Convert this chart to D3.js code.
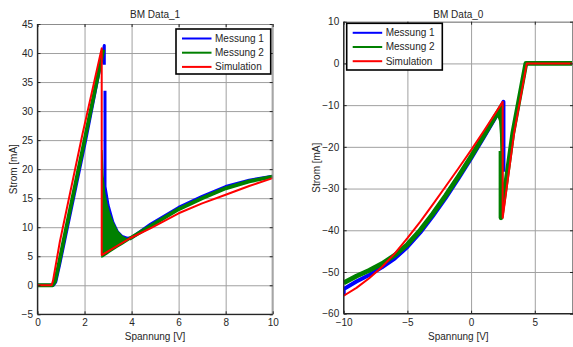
<!DOCTYPE html>
<html><head><meta charset="utf-8">
<script src="https://cdn.jsdelivr.net/npm/d3@7"></script>
<style>
html,body{margin:0;padding:0;background:#fff;}
svg{display:block;font-family:"Liberation Sans",Arial,sans-serif;}
</style>
</head><body>
<svg id="c" width="573" height="347"></svg>
<script>
// ---------------- Data: left panel "BM Data_1" ----------------
const L_title = "BM Data_1";
const L_xTicks = [0, 2, 4, 6, 8, 10];
const L_yTicks = [-5, 0, 5, 10, 15, 20, 25, 30, 35, 40, 45];
const L_simV = [0, 0.6, 0.66, 0.95, 1.9, 2.73, 2.73, 3.93, 4.8, 6, 7, 8, 9, 10];
const L_simI = [0, 0, 0.8, 7.5, 25.8, 40.8, 5.2, 8.1, 9.8, 12.4, 14.1, 15.6, 17.1, 18.45];
const L_m1V = [0, 0.68, 0.78, 0.95, 1.15, 2.05, 2.84, 2.84, 2.86, 2.87, 2.87, 3.0, 3.2, 3.4, 3.6, 3.8, 4.0, 4.8, 6, 7, 8, 9, 10];
const L_m1I = [0, 0, 0.6, 3.7, 7.6, 25, 41.3, 38, NaN, 33.5, 17, 13.8, 10.9, 9.2, 8.4, 8.1, 8.2, 10.5, 13.4, 15.3, 17.0, 18.1, 18.8];
const L_m2V = [0, 0.64, 0.74, 0.9, 1.1, 2.0, 2.8, 2.8, 3.9, 4.8, 6, 7, 8, 9, 10];
const L_m2I = [0, 0, 0.6, 3.5, 7.5, 25, 40.6, NaN, 8.0, 10.2, 13.1, 15.0, 16.7, 17.9, 18.7];
const L_oscV  = [2.74, 2.78, 2.85, 2.95, 3.05, 3.2, 3.4, 3.6, 3.8, 3.95];
const L_oscHi = [23.3, 19, 16, 14, 12.5, 10.9, 9.3, 8.4, 8.0, 8.1];
const L_oscLo = [4.9, 4.95, 5.15, 5.4, 5.7, 6.1, 6.6, 7.1, 7.6, 8.0];

// ---------------- Data: right panel "BM Data_0" ----------------
const R_title = "BM Data_0";
const R_xTicks = [-10, -5, 0, 5];
const R_yTicks = [-60, -50, -40, -30, -20, -10, 0, 10];
const R_simV = [-10, -9, -8, -7, -6, -5, -4, -3, -2, -1, 0, 1, 2, 2.48, 2.48, 3.37, 4.37, 8];
const R_simI = [-55.7, -53.8, -51.5, -48.8, -45.6, -41.9, -38, -33.8, -29.5, -25.2, -20.8, -16.2, -11.5, -9.2, -37, -16.8, 0, 0];
const R_m1V = [-10, -10, -9, -8, -7, -6, -5, -4, -3, -2, -1, 0, 1, 2, 2.54, 2.54];
const R_m1I = [-55.6, -54.1, -52.3, -50.7, -48.9, -46.8, -44.0, -40.6, -36.6, -32.3, -27.6, -22.8, -17.7, -12.5, -9.2, -26];
const R_m2V = [-10, -9, -8, -7, -6, -5, -4, -3, -2, -1, 0, 1, 1.8, 2.45, 2.35, 2.35, 2.35, 3.27, 4.3, 8];
const R_m2I = [-52.6, -51, -49.6, -48, -46, -43.4, -40, -36, -31.7, -27.1, -22.3, -17.3, -13.2, -10, NaN, -21, -37, -16.8, 0, 0];
const R_oscV  = [1.7, 1.9, 2.1, 2.25, 2.32, 2.36, 2.42, 2.45];
const R_oscHi = [-13.3, -12.3, -11.3, -10.6, -10.3, -10.1, -9.8, -9.6];
const R_oscLo = [-13.6, -13.2, -12.5, -13.8, -17, -22, -24.5, -9.6];

const seriesNames = ["Messung 1", "Messung 2", "Simulation"];
const seriesColors = ["#0000ff", "#008000", "#ff0000"];

// ---------------- Drawing ----------------
const svg = d3.select("#c");
const TXT = "#262626";

function zip(v, i) { return v.map((d, k) => [d, i[k]]); }

function panel(o) {
  const x = d3.scaleLinear().domain(o.xDom).range(o.xRange);
  const y = d3.scaleLinear().domain(o.yDom).range(o.yRange);
  const [xl, xr] = o.xRange, [yb, yt] = o.yRange;
  const g = svg.append("g");
  const cid = "clip" + o.id;
  svg.append("clipPath").attr("id", cid).append("rect")
    .attr("x", xl).attr("y", yt).attr("width", xr - xl).attr("height", yb - yt);

  // grid
  const gx = g.append("g").attr("transform", `translate(0,${yb})`)
    .call(d3.axisBottom(x).tickValues(o.xTicks).tickSize(-(yb - yt)).tickFormat(""));
  const gy = g.append("g").attr("transform", `translate(${xl},0)`)
    .call(d3.axisLeft(y).tickValues(o.yTicks).tickSize(-(xr - xl)).tickFormat(""));
  [gx, gy].forEach(a => { a.select(".domain").remove(); a.selectAll("line").attr("stroke", "#a0a0a0").attr("stroke-width", 1); });

  const line = d3.line().defined(d => !isNaN(d[1])).x(d => x(d[0])).y(d => y(d[1]));
  const area = d3.area().x(d => x(d[0])).y0(d => y(d[1])).y1(d => y(d[2]));
  const plot = g.append("g").attr("clip-path", `url(#${cid})`);

  plot.append("path").datum(zip(o.m1V, o.m1I)).attr("d", line)
    .attr("fill", "none").attr("stroke", seriesColors[0]).attr("stroke-width", o.bw1)
    .attr("stroke-linejoin", "round");
  plot.append("path").datum(o.oscV.map((v, k) => [v, o.oscLo[k], o.oscHi[k]])).attr("d", area)
    .attr("fill", seriesColors[1]).attr("stroke", seriesColors[1]).attr("stroke-width", 1.5);
  plot.append("path").datum(zip(o.m2V, o.m2I)).attr("d", line)
    .attr("fill", "none").attr("stroke", seriesColors[1]).attr("stroke-width", o.bw2)
    .attr("stroke-linejoin", "round");
  plot.append("path").datum(zip(o.simV, o.simI)).attr("d", line)
    .attr("fill", "none").attr("stroke", seriesColors[2]).attr("stroke-width", 2)
    .attr("stroke-linejoin", "round");

  // frame
  g.append("line").attr("x1", xl).attr("x2", xr).attr("y1", yt + 0.5).attr("y2", yt + 0.5).attr("stroke", "#8c8c8c");
  g.append("line").attr("x1", xr - 0.5).attr("x2", xr - 0.5).attr("y1", yt).attr("y2", yb).attr("stroke", "#8c8c8c");
  g.append("line").attr("x1", xl).attr("x2", xr).attr("y1", yb).attr("y2", yb).attr("stroke", "#262626").attr("stroke-width", 1.3);
  g.append("line").attr("x1", xl).attr("x2", xl).attr("y1", yt).attr("y2", yb).attr("stroke", "#262626").attr("stroke-width", 1.3);

  // tick axes
  const ab = g.append("g").attr("transform", `translate(0,${yb})`)
    .call(d3.axisBottom(x).tickValues(o.xTicks).tickSizeInner(-3).tickSizeOuter(0).tickPadding(5));
  const al = g.append("g").attr("transform", `translate(${xl},0)`)
    .call(d3.axisLeft(y).tickValues(o.yTicks).tickSizeInner(-3).tickSizeOuter(0).tickPadding(4.5));
  const at = g.append("g").attr("transform", `translate(0,${yt})`)
    .call(d3.axisTop(x).tickValues(o.xTicks).tickSizeInner(-3).tickSizeOuter(0).tickFormat(""));
  const ar = g.append("g").attr("transform", `translate(${xr},0)`)
    .call(d3.axisRight(y).tickValues(o.yTicks).tickSizeInner(-3).tickSizeOuter(0).tickFormat(""));
  [ab, al, at, ar].forEach(a => {
    a.select(".domain").remove();
    a.selectAll("line").attr("stroke", "#262626");
    a.selectAll("text").attr("fill", TXT).style("font-size", "10px").style("font-family", '"Liberation Sans",Arial,sans-serif');
  });

  // titles
  const cx = (xl + xr) / 2;
  g.append("text").attr("x", cx).attr("y", 18).attr("text-anchor", "middle")
    .attr("fill", TXT).style("font-size", "10px").text(o.title);
  g.append("text").attr("x", cx).attr("y", 340).attr("text-anchor", "middle")
    .attr("fill", TXT).style("font-size", "10px").text("Spannung [V]");
  g.append("text").attr("transform", `translate(${o.ylabX},${(yt + yb) / 2}) rotate(-90)`)
    .attr("text-anchor", "middle").attr("fill", TXT).style("font-size", "10px").text("Strom [mA]");

  // legend
  const lg = g.append("g").attr("transform", `translate(${o.leg[0]},${o.leg[1]})`);
  lg.append("rect").attr("x", 0).attr("y", 0).attr("width", o.leg[2]).attr("height", o.leg[3])
    .attr("fill", "#fff").attr("stroke", "#000").attr("stroke-width", 1.6);
  seriesNames.forEach((n, k) => {
    const yy = 9.5 + k * 14.2;
    lg.append("line").attr("x1", 6).attr("x2", 35.5).attr("y1", yy).attr("y2", yy)
      .attr("stroke", seriesColors[k]).attr("stroke-width", 2);
    lg.append("text").attr("x", 39).attr("y", yy + 3.5).attr("fill", TXT)
      .style("font-size", "10px").text(n);
  });
}

panel({ id: "L", title: L_title, xDom: [0, 10], yDom: [-5, 45], xRange: [37.5, 272.7], yRange: [314.3, 24],
  xTicks: L_xTicks, yTicks: L_yTicks, simV: L_simV, simI: L_simI, m1V: L_m1V, m1I: L_m1I, m2V: L_m2V, m2I: L_m2I,
  oscV: L_oscV, oscHi: L_oscHi, oscLo: L_oscLo, bw1: 3, bw2: 3.8, ylabX: 17, leg: [176, 29, 94.7, 45] });

panel({ id: "R", title: R_title, xDom: [-10, 8], yDom: [-60, 10], xRange: [343.7, 573], yRange: [313.7, 21.7],
  xTicks: R_xTicks, yTicks: R_yTicks, simV: R_simV, simI: R_simI, m1V: R_m1V, m1I: R_m1I, m2V: R_m2V, m2I: R_m2I,
  oscV: R_oscV, oscHi: R_oscHi, oscLo: R_oscLo, bw1: 4, bw2: 4.8, ylabX: 320, leg: [346.7, 23.3, 95.6, 46.7] });
</script>
</body></html>
